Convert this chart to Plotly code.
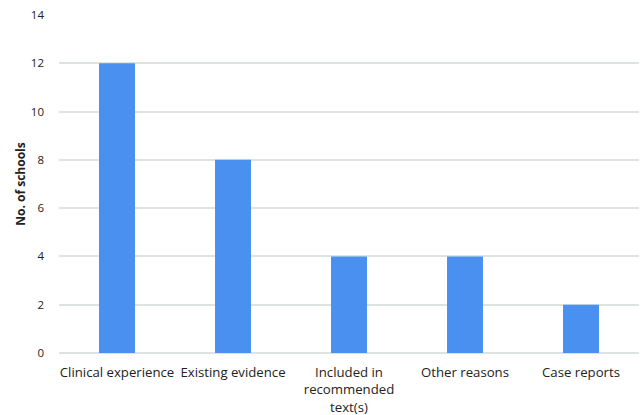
import plotly.graph_objects as go

categories = ["Clinical experience", "Existing evidence", "Included in<br>recommended<br>text(s)", "Other reasons", "Case reports"]
schools = [12, 8, 4, 4, 2]
y_ticks = [0, 2, 4, 6, 8, 10, 12, 14]

fig = go.Figure(
    go.Bar(
        x=categories,
        y=schools,
        marker=dict(color="#4a90f0", line=dict(width=0)),
        width=0.31,
    )
)

fig.update_layout(
    width=643,
    height=415,
    margin=dict(l=59, r=4, t=15, b=62),
    paper_bgcolor="white",
    plot_bgcolor="white",
    showlegend=False,
    font=dict(family="Open Sans, Liberation Sans, sans-serif", color="#222222"),
)

fig.update_xaxes(
    tickfont=dict(size=13.2),
    showgrid=False,
    showline=False,
    ticks="",
    ticklabelstandoff=10,
    automargin=False,
)

fig.update_yaxes(
    range=[0, 14],
    tickvals=y_ticks,
    tickfont=dict(size=11.5),
    showgrid=True,
    gridcolor="#dde3e3",
    gridwidth=1.5,
    zeroline=True,
    zerolinecolor="#dde3e3",
    zerolinewidth=1.5,
    ticks="",
    ticklabelstandoff=14,
    automargin=False,
    title=dict(text="<b>No. of schools</b>", font=dict(size=12), standoff=2),
)

fig.write_html("out.html")
